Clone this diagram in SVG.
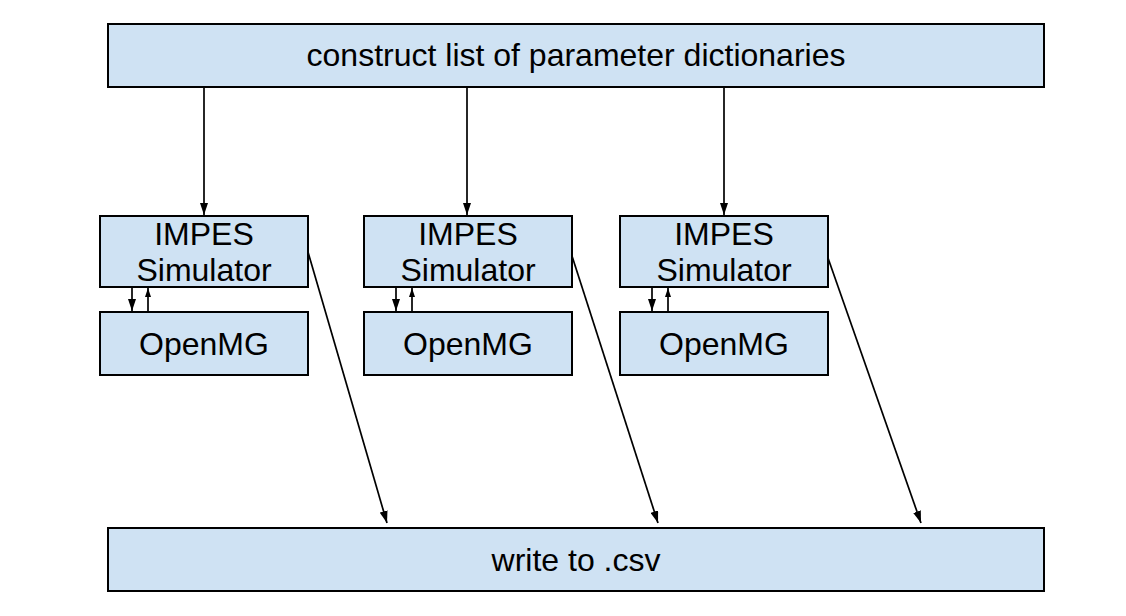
<svg xmlns="http://www.w3.org/2000/svg" width="1126" height="616" viewBox="0 0 1126 616">
<style>
.box{fill:#cfe2f3;stroke:#000;stroke-width:2}
.t{font-family:"Liberation Sans",Arial,sans-serif;font-size:32px;fill:#000;text-anchor:middle}
.c{stroke:#000;stroke-width:1.7;fill:none}
</style>
<defs>
<marker id="a" viewBox="0 0 12 8" refX="12" refY="4" markerWidth="12" markerHeight="8" orient="auto" markerUnits="userSpaceOnUse">
<path d="M0,0 L12,4 L0,8 Z" fill="#000"/>
</marker>
<marker id="s" viewBox="0 0 9 6" refX="9" refY="3" markerWidth="9" markerHeight="6" orient="auto" markerUnits="userSpaceOnUse">
<path d="M0,0 L9,3 L0,6 Z" fill="#000"/>
</marker>
</defs>
<rect width="1126" height="616" fill="#fff"/>
<g id="top"><rect class="box" x="108" y="24" width="936" height="63"/><text class="t" x="576" y="66">construct list of parameter dictionaries</text></g>
<g id="sim1"><rect class="box" x="100" y="216" width="208" height="71"/><text class="t" x="204" y="245">IMPES</text><text class="t" x="204" y="281">Simulator</text></g>
<g id="mg1"><rect class="box" x="100" y="312" width="208" height="63"/><text class="t" x="204" y="355">OpenMG</text></g>
<g id="sim2"><rect class="box" x="364" y="216" width="208" height="71"/><text class="t" x="468" y="245">IMPES</text><text class="t" x="468" y="281">Simulator</text></g>
<g id="mg2"><rect class="box" x="364" y="312" width="208" height="63"/><text class="t" x="468" y="355">OpenMG</text></g>
<g id="sim3"><rect class="box" x="620" y="216" width="208" height="71"/><text class="t" x="724" y="245">IMPES</text><text class="t" x="724" y="281">Simulator</text></g>
<g id="mg3"><rect class="box" x="620" y="312" width="208" height="63"/><text class="t" x="724" y="355">OpenMG</text></g>
<g id="bottom"><rect class="box" x="108" y="528" width="936" height="63"/><text class="t" x="576" y="571">write to .csv</text></g>
<g id="connectors">
<line class="c" x1="204" y1="88" x2="204" y2="215" marker-end="url(#a)"/>
<line class="c" x1="467" y1="88" x2="467" y2="215" marker-end="url(#a)"/>
<line class="c" x1="724" y1="88" x2="724" y2="215" marker-end="url(#a)"/>
<line class="c" x1="132" y1="288" x2="132" y2="311" marker-end="url(#a)"/>
<line class="c" x1="148" y1="311" x2="148" y2="288" marker-end="url(#s)"/>
<line class="c" x1="396" y1="288" x2="396" y2="311" marker-end="url(#a)"/>
<line class="c" x1="412" y1="311" x2="412" y2="288" marker-end="url(#s)"/>
<line class="c" x1="652" y1="288" x2="652" y2="311" marker-end="url(#a)"/>
<line class="c" x1="668" y1="311" x2="668" y2="288" marker-end="url(#s)"/>
<line class="c" x1="308" y1="252" x2="387" y2="523" marker-end="url(#a)"/>
<line class="c" x1="572" y1="256" x2="658" y2="523" marker-end="url(#a)"/>
<line class="c" x1="828" y1="258" x2="921" y2="523" marker-end="url(#a)"/>
</g>
</svg>
